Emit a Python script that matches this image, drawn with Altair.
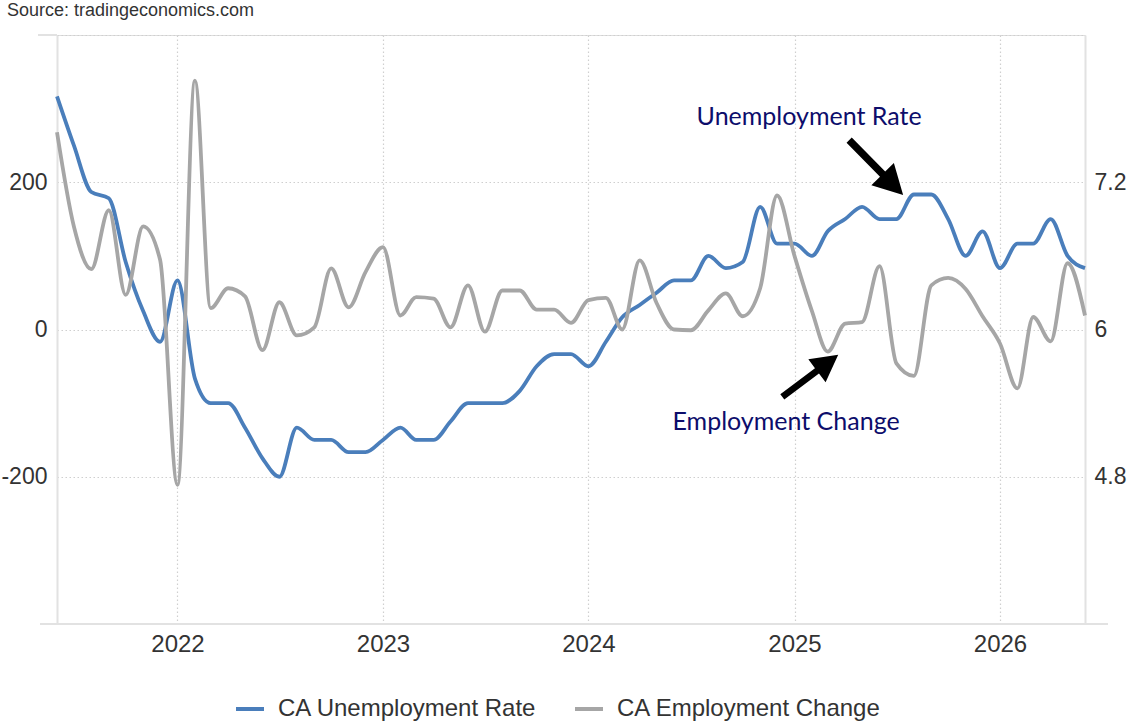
import altair as alt
import pandas as pd

# ---------------- data ----------------
months = pd.date_range("2021-06-01", periods=61, freq="MS").strftime("%Y-%m-%d").tolist()

unemployment_rate = [
    7.9, 7.5, 7.12, 7.07, 6.55, 6.15, 5.9, 6.4, 5.6, 5.4, 5.4, 5.2,
    4.95, 4.8, 5.2, 5.1, 5.1, 5.0, 5.0, 5.1, 5.2, 5.1, 5.1, 5.25,
    5.4, 5.4, 5.4, 5.5, 5.7, 5.8, 5.8, 5.7, 5.9, 6.1, 6.2, 6.3,
    6.4, 6.4, 6.6, 6.5, 6.55, 7.0, 6.7, 6.7, 6.6, 6.8, 6.9, 7.0,
    6.9, 6.9, 7.1, 7.1, 6.9, 6.6, 6.8, 6.5, 6.7, 6.7, 6.9, 6.6,
    6.5,
]

employment_change = [
    268, 140, 82, 162, 47, 140, 95, -211, 338, 29, 56, 45,
    -28, 37, -8, 3, 83, 30, 78, 112, 19, 44, 42, 3,
    60, -3, 53, 53, 27, 27, 9, 40, 43, 0, 94, 36,
    0, -1, 26, 49, 18, 56, 182, 100, 25, -30, 8, 10,
    86, -46, -63, 60, 70, 55, 18, -19, -80, 17, -16, 90,
    19,
]

series_names = ["CA Unemployment Rate", "CA Employment Change"]
series_colors = ["#4a7ebb", "#a6a6a6"]

note_dates = ["2025-01-27", "2024-12-17"]
note_values = [288, -126]
note_labels = ["Unemployment Rate", "Employment Change"]

arrow_dates = ["2025-05-26", "2025-01-29"]
arrow_values = [220, -63]
arrow_angles = [135.5, 53]
arrow_sizes = [5929, 4900]

source_text = "Source: tradingeconomics.com"

# ---------------- frames ----------------
ur_df = pd.DataFrame({"date": months, "ur": unemployment_rate, "series": series_names[0]})
ec_df = pd.DataFrame({"date": months, "ec": employment_change, "series": series_names[1]})
notes_df = pd.DataFrame({"date": note_dates, "ec": note_values, "label": note_labels})
arrows_df = pd.DataFrame({"date": arrow_dates, "ec": arrow_values,
                          "angle": arrow_angles, "size": arrow_sizes})
one_row = pd.DataFrame({"k": [0]})

W, H = 1028, 589
LABEL_FONT = "Liberation Sans"
GRID = "#cfcfcf"
AXIS_LINE = "#e2e2e2"

x_enc = alt.X(
    "date:T",
    scale=alt.Scale(type="utc",
                    domain=[alt.DateTime(year=2021, month=6, date=1, utc=True),
                            alt.DateTime(year=2026, month=6, date=1, utc=True)]),
    axis=alt.Axis(title=None, format="%Y", tickCount={"interval": "year", "step": 1},
                  labelFontSize=24, labelFont=LABEL_FONT, labelColor="#333333",
                  labelPadding=8, ticks=False, domain=False, grid=True,
                  gridDash=[1.5, 2.5], gridColor=GRID, gridWidth=1.2, labelFlush=False),
)

y_ec = alt.Y(
    "ec:Q",
    scale=alt.Scale(domain=[-400, 400], nice=False),
    axis=alt.Axis(title=None, orient="left", values=[-400, -200, 0, 200, 400],
                  labelExpr="abs(datum.value) == 400 ? '' : toString(datum.value)",
                  grid=True, gridDash=[1.5, 2.5], gridColor=GRID, gridWidth=1.2,
                  ticks=False, domainColor=AXIS_LINE, domainWidth=2,
                  labelFontSize=23, labelFont=LABEL_FONT, labelColor="#333333",
                  labelPadding=10),
)

y_ur = alt.Y(
    "ur:Q",
    scale=alt.Scale(domain=[3.6, 8.4], nice=False, zero=False),
    axis=alt.Axis(title=None, orient="right", values=[4.8, 6, 7.2],
                  labelExpr="toString(datum.value)", grid=False, ticks=False,
                  domainColor=AXIS_LINE, domainWidth=2,
                  labelFontSize=23, labelFont=LABEL_FONT, labelColor="#333333",
                  labelPadding=9),
)

color_enc = alt.Color(
    "series:N",
    scale=alt.Scale(domain=series_names, range=series_colors),
    legend=alt.Legend(title=None, orient="none", legendX=177, legendY=658,
                      direction="horizontal", symbolType="stroke",
                      symbolStrokeWidth=4, symbolSize=784,
                      labelFontSize=24, labelFont=LABEL_FONT, labelColor="#333333",
                      labelLimit=0, columnPadding=30, labelOffset=12, padding=0),
)

blue = alt.Chart(ur_df).mark_line(interpolate="monotone", strokeWidth=3.8).encode(
    x=x_enc, y=y_ur, color=color_enc)

grey = alt.Chart(ec_df).mark_line(interpolate="monotone", strokeWidth=3.8).encode(
    x=x_enc, y=y_ec, color=color_enc)

notes = alt.Chart(notes_df).mark_text(
    font="Lato", fontSize=25, color="#0d0d6b", align="center", baseline="middle"
).encode(x=x_enc, y=y_ec, text="label:N")

ARROW = ("M0,-1 L0.41,-0.24 L0.095,-0.24 L0.095,1 L-0.095,1 "
         "L-0.095,-0.24 L-0.41,-0.24 Z")
arrows = alt.Chart(arrows_df).mark_point(
    shape=ARROW, filled=True, color="black", opacity=1, strokeWidth=0
).encode(x=x_enc, y=y_ec,
         angle=alt.Angle("angle:Q", scale=None),
         size=alt.Size("size:Q", scale=None, legend=None))

bottom_line = alt.Chart(one_row).mark_rule(color=AXIS_LINE, strokeWidth=2).encode(
    x=alt.value(-17), x2=alt.value(W + 23), y=alt.value(H))

top_tick = alt.Chart(one_row).mark_rule(color=AXIS_LINE, strokeWidth=2).encode(
    x=alt.value(-19), x2=alt.value(0), y=alt.value(0))

source = alt.Chart(one_row).mark_text(
    align="left", baseline="alphabetic", font=LABEL_FONT, fontSize=18, color="#333333"
).encode(x=alt.value(-50), y=alt.value(-19), text=alt.value(source_text))

left_group = alt.layer(bottom_line, top_tick, grey, notes, arrows, source)

chart = alt.layer(blue, left_group).resolve_scale(y="independent").properties(
    width=W, height=H,
    padding={"left": 57, "top": 35, "right": 42, "bottom": 98},
    autosize=alt.AutoSizeParams(type="none"),
).configure_view(stroke=None).configure(background="white")

chart.save("out.html", embed_options={"renderer": "svg", "actions": False})
